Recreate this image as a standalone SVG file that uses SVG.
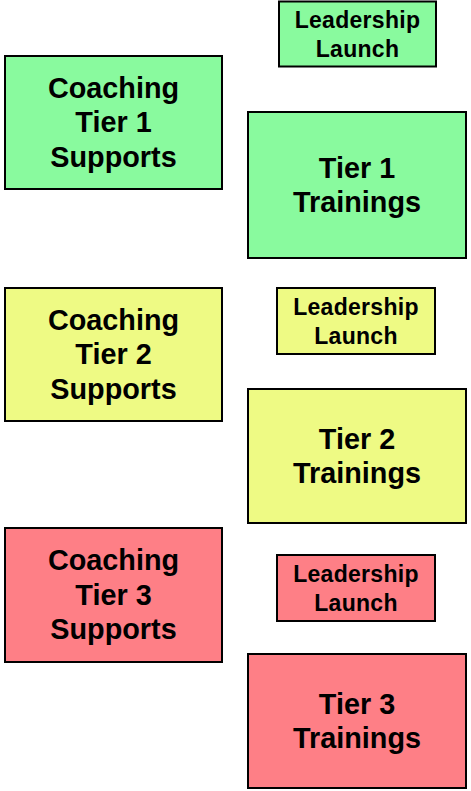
<svg xmlns="http://www.w3.org/2000/svg" width="471" height="791" viewBox="0 0 471 791">
<style>
rect{stroke:#000;stroke-width:2}
.g{fill:#89fa9e}.y{fill:#eefa84}.r{fill:#fe7f86}
text{font-family:"Liberation Sans",Arial,Helvetica,sans-serif;font-weight:bold;text-anchor:middle;fill:#000}
.big{font-size:28.8px}
.sm{font-size:23px;letter-spacing:0.3px}
</style>
<rect width="471" height="791" fill="#fff" style="stroke:none"/>
<g id="leadership1"><rect class="g" x="279" y="1.5" width="157" height="65"/><text class="sm" x="357.5" y="28">Leadership</text><text class="sm" x="357.5" y="56.5">Launch</text></g>
<g id="coaching1"><rect class="g" x="5" y="56" width="217" height="133"/><text class="big" x="113.5" y="97.5">Coaching</text><text class="big" x="113.5" y="132">Tier 1</text><text class="big" x="113.5" y="166.5">Supports</text></g>
<g id="trainings1"><rect class="g" x="248" y="112" width="218" height="146"/><text class="big" x="357" y="178">Tier 1</text><text class="big" x="357" y="212">Trainings</text></g>
<g id="coaching2"><rect class="y" x="5" y="288" width="217" height="133"/><text class="big" x="113.5" y="329.5">Coaching</text><text class="big" x="113.5" y="364">Tier 2</text><text class="big" x="113.5" y="398.5">Supports</text></g>
<g id="leadership2"><rect class="y" x="277" y="288" width="158" height="66"/><text class="sm" x="356" y="315">Leadership</text><text class="sm" x="356" y="344">Launch</text></g>
<g id="trainings2"><rect class="y" x="248" y="389" width="218" height="134"/><text class="big" x="357" y="449">Tier 2</text><text class="big" x="357" y="483">Trainings</text></g>
<g id="coaching3"><rect class="r" x="5" y="528" width="217" height="134"/><text class="big" x="113.5" y="570">Coaching</text><text class="big" x="113.5" y="604.5">Tier 3</text><text class="big" x="113.5" y="639">Supports</text></g>
<g id="leadership3"><rect class="r" x="277" y="555" width="158" height="66"/><text class="sm" x="356" y="582">Leadership</text><text class="sm" x="356" y="611">Launch</text></g>
<g id="trainings3"><rect class="r" x="248" y="654" width="218" height="134"/><text class="big" x="357" y="714">Tier 3</text><text class="big" x="357" y="748">Trainings</text></g>
<g id="connectors"></g>
</svg>
